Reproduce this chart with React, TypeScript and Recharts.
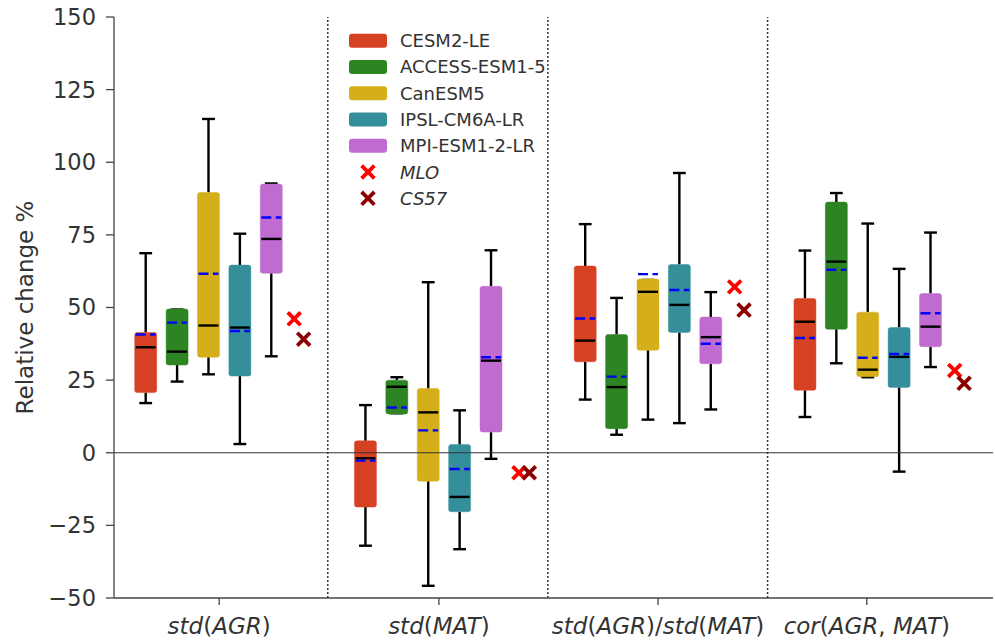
import { ComposedChart, Bar, Scatter, XAxis, YAxis, ReferenceLine } from "recharts";

const models = ["CESM2-LE", "ACCESS-ESM1-5", "CanESM5", "IPSL-CM6A-LR", "MPI-ESM1-2-LR"];
const modelColors = ["#d64123", "#2c8423", "#d4af19", "#348f9a", "#c06bcf"];
const metricLabels = ["std(AGR)", "std(MAT)", "std(AGR)/std(MAT)", "cor(AGR, MAT)"];
const metricTicks = [3.35, 10.35, 17.33, 23.98];
const dividers = [6.81, 13.82, 20.82];
const yTicks = [-50, -25, 0, 25, 50, 75, 100, 125, 150];

// one row per metric, one column per model (same order as `models`)
const whiskerLow = [
  [17.1, 24.5, 27.0, 3.0, 33.2],
  [-32.0, 13.6, -45.8, -33.2, -2.1],
  [18.3, 6.2, 11.4, 10.2, 14.9],
  [12.3, 30.8, 26.0, -6.5, 29.5],
];
const q1 = [
  [20.7, 30.2, 32.9, 26.4, 61.8],
  [-18.7, 13.3, -9.8, -20.3, 7.1],
  [31.3, 8.3, 35.3, 41.4, 30.6],
  [21.5, 42.5, 26.2, 22.5, 36.5],
];
const median = [
  [36.3, 34.8, 43.8, 43.1, 73.6],
  [-1.9, 22.7, 13.9, -15.2, 31.7],
  [38.6, 22.6, 55.4, 50.9, 39.8],
  [45.1, 65.8, 28.6, 33.0, 43.4],
];
const mean = [
  [40.7, 44.8, 61.6, 41.9, 81.0],
  [-2.7, 15.6, 7.7, -5.6, 32.9],
  [46.2, 26.2, 61.5, 56.0, 37.5],
  [39.5, 63.0, 32.7, 34.0, 48.0],
];
const q3 = [
  [41.4, 49.5, 89.6, 64.6, 92.5],
  [4.1, 25.0, 22.1, 2.8, 57.3],
  [64.3, 40.7, 59.8, 64.8, 46.7],
  [53.1, 86.3, 48.4, 43.1, 54.8],
];
const whiskerHigh = [
  [68.7, 49.3, 114.9, 75.4, 92.7],
  [16.4, 26.0, 58.7, 14.6, 69.7],
  [78.7, 53.3, 59.5, 96.3, 55.3],
  [69.6, 89.4, 78.9, 63.3, 75.8],
];

const mloX = [5.74, 12.9, 19.77, 26.78];
const mloY = [46.1, -6.9, 57.1, 28.3];
const cs57X = [6.04, 13.23, 20.07, 27.08];
const cs57Y = [39.1, -6.9, 49.1, 23.9];

const FONT = "DejaVu Sans";
const INK = "#333";

// 7 slots per metric: 5 boxes, then room for the observation markers
const boxRows: any[] = [];
for (let slot = 1; slot <= 27; slot++) {
  const g = Math.floor((slot - 1) / 7);
  const i = (slot - 1) % 7;
  if (i < 5) {
    boxRows.push({
      slot,
      range: [whiskerLow[g][i], whiskerHigh[g][i]],
      stats: { min: whiskerLow[g][i], q1: q1[g][i], med: median[g][i], mean: mean[g][i], q3: q3[g][i], max: whiskerHigh[g][i] },
      color: modelColors[i],
    });
  } else {
    boxRows.push({ slot, range: null });
  }
}

const mloData = mloX.map((x, i) => ({ x, y: mloY[i] }));
const cs57Data = cs57X.map((x, i) => ({ x, y: cs57Y[i] }));

function BoxShape(props: any) {
  const { x, y, width, height, payload } = props;
  const s = payload?.stats;
  if (!s || !Number.isFinite(y) || !Number.isFinite(height)) return null;
  // bar spans [min, max]; map the other stats linearly inside it
  const py = (v: number) => y + ((s.max - v) / (s.max - s.min)) * height;
  const cx = x + width / 2;
  const cap = 6.4;
  return (
    <g>
      <line x1={cx} x2={cx} y1={py(s.max)} y2={py(s.q3)} stroke="#000" strokeWidth={2.4} />
      <line x1={cx} x2={cx} y1={py(s.q1)} y2={py(s.min)} stroke="#000" strokeWidth={2.4} />
      <line x1={cx - cap} x2={cx + cap} y1={py(s.max)} y2={py(s.max)} stroke="#000" strokeWidth={2.4} />
      <line x1={cx - cap} x2={cx + cap} y1={py(s.min)} y2={py(s.min)} stroke="#000" strokeWidth={2.4} />
      <rect
        x={x} y={py(s.q3)} width={width} height={py(s.q1) - py(s.q3)} rx={2.5}
        fill={payload.color} stroke={payload.color} strokeOpacity={0.45} strokeWidth={1}
      />
      <line x1={x + 1} x2={x + width - 1} y1={py(s.med)} y2={py(s.med)} stroke="#000" strokeWidth={2.4} />
      <line
        x1={x + 1} x2={x + width - 1} y1={py(s.mean)} y2={py(s.mean)}
        stroke="#0000ff" strokeWidth={2.4} strokeDasharray="10 4.5"
      />
    </g>
  );
}

function Cross({ cx, cy, color }: { cx: number; cy: number; color: string }) {
  const r = 6.4;
  return (
    <g>
      <line x1={cx - r} y1={cy - r} x2={cx + r} y2={cy + r} stroke={color} strokeWidth={3.8} />
      <line x1={cx - r} y1={cy + r} x2={cx + r} y2={cy - r} stroke={color} strokeWidth={3.8} />
    </g>
  );
}

function MetricTick({ x, y, payload }: any) {
  const idx = metricTicks.indexOf(payload.value);
  const label = metricLabels[idx] ?? "";
  const parts = label.split(/([()\/,\s]+)/).filter(Boolean);
  return (
    <text x={x} y={y} dy={25} textAnchor="middle" fontFamily={FONT} fontSize={23} fill={INK}>
      {parts.map((p, k) => (
        <tspan key={k} fontStyle={/^[A-Za-z0-9]+$/.test(p) ? "italic" : "normal"}>{p}</tspan>
      ))}
    </text>
  );
}

function LegendOverlay() {
  const rows = [...models.map((m, i) => ({ name: m, color: modelColors[i], kind: "box" })),
    { name: "MLO", color: "#ff0000", kind: "x" }, { name: "CS57", color: "#8b0000", kind: "x" }];
  return (
    <svg width={995} height={643} style={{ position: "absolute", left: 0, top: 0, pointerEvents: "none" }}>
      {rows.map((r, k) => {
        const cy = 40.7 + k * 26.27;
        return (
          <g key={r.name}>
            {r.kind === "box"
              ? <rect x={349} y={cy - 7} width={38} height={14} rx={3} fill={r.color} />
              : <Cross cx={368} cy={cy} color={r.color} />}
            <text x={400} y={cy} dy={6.5} fontFamily={FONT} fontSize={18} fill={INK}
              fontStyle={r.kind === "x" ? "italic" : "normal"}>{r.name}</text>
          </g>
        );
      })}
    </svg>
  );
}

export default function App() {
  return (
    <div style={{ position: "absolute", left: 0, top: 0, width: 995, height: 643, background: "#fff" }}>
      <ComposedChart width={995} height={643} data={boxRows} margin={{ top: 17, right: 2, bottom: 0, left: 0 }}>
        <XAxis xAxisId="cat" dataKey="slot" type="category" hide height={0} padding={{ left: 15.7, right: 15.7 }} />
        <XAxis
          xAxisId="num" dataKey="x" type="number" domain={[0, 28]} allowDataOverflow ticks={metricTicks} interval={0}
          height={45} tickSize={7} tickMargin={4} tick={<MetricTick />}
          axisLine={{ stroke: "#444", strokeWidth: 1.3 }} tickLine={{ stroke: "#444", strokeWidth: 1.3 }}
        />
        <YAxis
          type="number" domain={[-50, 150]} allowDataOverflow ticks={yTicks} interval={0} width={114}
          tickSize={8} tickMargin={10}
          tick={{ fontFamily: FONT, fontSize: 22.5, fill: INK }}
          tickFormatter={(v: number) => (v < 0 ? "\u2212" + Math.abs(v) : String(v))}
          axisLine={{ stroke: "#444", strokeWidth: 1.3 }} tickLine={{ stroke: "#444", strokeWidth: 1.3 }}
          label={{
            value: "Relative change %", angle: -90, position: "insideLeft", offset: 25,
            style: { textAnchor: "middle", fontFamily: FONT, fontSize: 23, fill: INK },
          }}
        />
        {dividers.map((d) => (
          <ReferenceLine key={d} xAxisId="num" x={d} stroke="#333" strokeWidth={1.5} strokeDasharray="2 2" />
        ))}
        <Bar xAxisId="cat" dataKey="range" barSize={22} shape={<BoxShape />} isAnimationActive={false} />
        <ReferenceLine xAxisId="num" y={0} stroke="#333" strokeWidth={1.2} />
        <Scatter xAxisId="num" data={mloData} dataKey="y" isAnimationActive={false}
          shape={(p: any) => <Cross cx={p.cx} cy={p.cy} color="#ff0000" />} />
        <Scatter xAxisId="num" data={cs57Data} dataKey="y" isAnimationActive={false}
          shape={(p: any) => <Cross cx={p.cx} cy={p.cy} color="#8b0000" />} />
      </ComposedChart>
      <LegendOverlay />
    </div>
  );
}
